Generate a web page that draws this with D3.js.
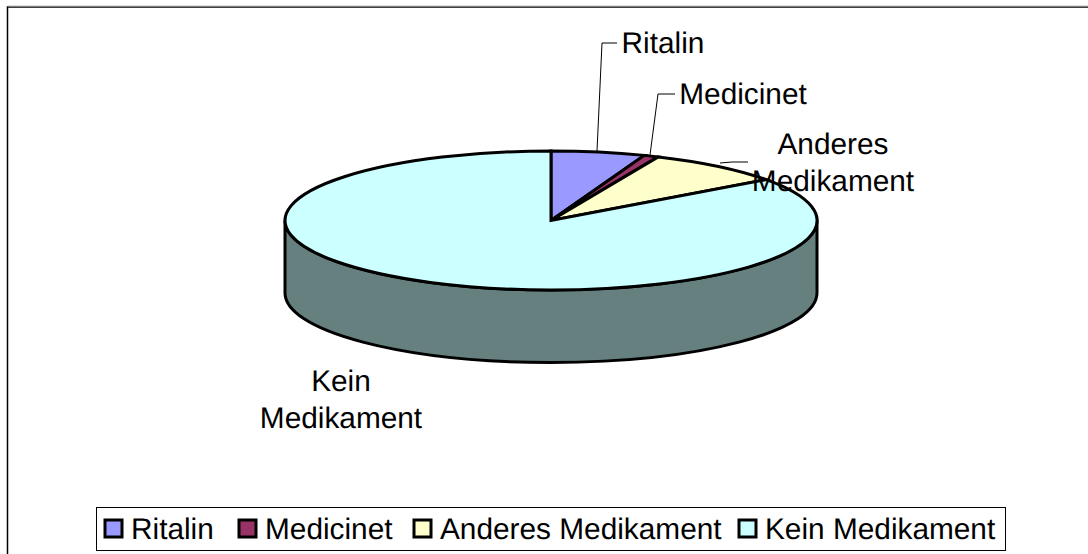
<!DOCTYPE html>
<html><head><meta charset="utf-8">
<script src="https://cdn.jsdelivr.net/npm/d3@7/dist/d3.min.js"></script>
<style>html,body{margin:0;padding:0;background:#fff}svg{display:block}text{font-family:"Liberation Sans";fill:#000;text-rendering:geometricPrecision}</style>
</head><body><svg id="c" width="1088" height="554"></svg>
<script>
const categories=["Ritalin","Medicinet","Anderes Medikament","Kein Medikament"];
const values=[5.7,0.9,8.4,85];
const colors=["#9999ff","#993366","#ffffcc","#ccffff"];
const labelLines=[["Ritalin"],["Medicinet"],["Anderes","Medikament"],["Kein","Medikament"]];
const labelPos=[[663,52.5],[743,103.5],[833,153.5],[341,391]];
const leaderLines=[[[597,151],[602,43],[617,43]],[[650,155],[658,94],[675,94]],[[720,163],[732,162],[748,162]]];
const legendX=[104,238,413,738];
const W=1088,H=554,cx=551,cy=220.5,rx=266,ry=69.5,depth=72.5,fs=29.8;
const svg=d3.select("#c");
svg.append("path").attr("d","M7.5,554V7H1088").attr("fill","none").attr("stroke","#000").attr("stroke-width",1.5);
svg.append("path").attr("d",`M0,6.2H1088`).attr("transform","translate(8,0)").attr("stroke","#999").attr("stroke-width",1);
svg.append("path").attr("d",`M${cx-rx},${cy}V${cy+depth}A${rx},${ry} 0 0 0 ${cx+rx},${cy+depth}V${cy}A${rx},${ry} 0 0 1 ${cx-rx},${cy}Z`)
 .attr("fill","#668080").attr("stroke","#000").attr("stroke-width",3);
const pie=d3.pie().sort(null)(values);
const arc=d3.arc().innerRadius(0).outerRadius(1);
svg.append("g").attr("transform",`translate(${cx},${cy}) scale(${rx},${ry})`)
 .selectAll("path").data(pie).join("path")
 .attr("d",arc).attr("fill",(d,i)=>colors[i]).attr("stroke","#000").attr("stroke-width",3).attr("vector-effect","non-scaling-stroke");
const line=d3.line();
svg.append("g").selectAll("path").data(leaderLines).join("path").attr("d",d=>line(d)).attr("fill","none").attr("stroke","#000").attr("stroke-width",1);
labelLines.forEach((ls,i)=>{
 const t=svg.append("text").attr("text-anchor","middle").attr("font-size",fs);
 ls.forEach((l,j)=>t.append("tspan").attr("x",labelPos[i][0]).attr("y",labelPos[i][1]+j*37).text(l));
});
svg.append("rect").attr("x",96.5).attr("y",507.5).attr("width",909).attr("height",43).attr("fill","#fff").attr("stroke","#000").attr("stroke-width",1);
categories.forEach((c,i)=>{
 svg.append("rect").attr("x",legendX[i]+1).attr("y",520).attr("width",17).attr("height",17).attr("fill",colors[i]).attr("stroke","#000").attr("stroke-width",3);
 svg.append("text").attr("x",legendX[i]+27).attr("y",539).attr("font-size",fs).text(c);
});
</script></body></html>
